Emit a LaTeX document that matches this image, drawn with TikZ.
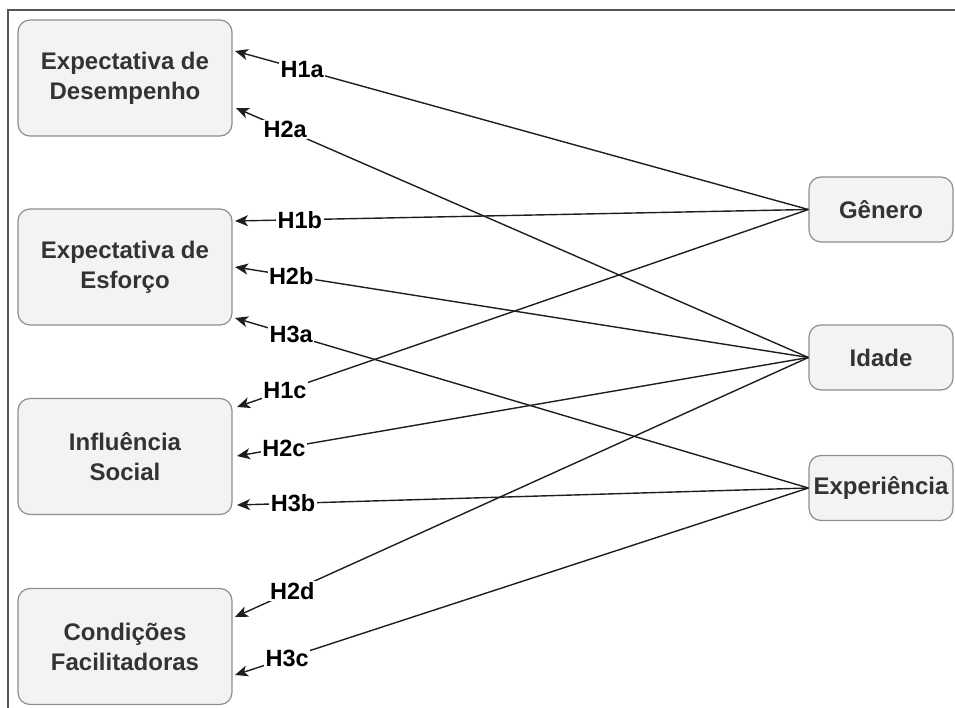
\documentclass[tikz,border=0pt]{standalone}
\usepackage{fontspec}
\setmainfont{Liberation Sans}
\usetikzlibrary{arrows.meta,calc}
\definecolor{boxfill}{HTML}{F3F3F3}
\definecolor{boxdraw}{HTML}{8E8E8E}
\definecolor{txt}{HTML}{333333}
\definecolor{ln}{HTML}{1E1E1E}
\definecolor{frame}{HTML}{555555}
\begin{document}
\begin{tikzpicture}[x=1pt,y=-1pt,
  box/.style={draw=boxdraw, line width=1.2pt, fill=boxfill, rounded corners=12pt,
    text=txt, font=\fontsize{24}{30}\selectfont\bfseries, align=center, inner sep=0pt},
  lbox/.style={box, minimum width=214pt, minimum height=116pt},
  rbox/.style={box, minimum width=144pt, minimum height=65pt},
  arr/.style={draw=ln, line width=1.4pt, -{Stealth[length=13pt,width=11pt,inset=3.5pt]}},
  lbl/.style={fill=white, inner sep=1.5pt, font=\fontsize{23.5}{26}\selectfont\bfseries, text=black}]
\useasboundingbox (0,0) rectangle (955,708);
\draw[frame, line width=2pt] (8,708) -- (8,10.5) -- (955,10.5);

% left boxes
\node[lbox] (ed) at (125,78) {Expectativa de\\Desempenho};
\node[lbox] (ee) at (125,267) {Expectativa de\\Esforço};
\node[lbox] (is) at (125,456.5) {Influência\\Social};
\node[lbox] (cf) at (125,646.5) {Condições\\Facilitadoras};

% right boxes
\node[rbox] (gen) at (881,209.5) {Gênero};
\node[rbox] (ida) at (881,357.5) {Idade};
\node[rbox] (exp) at (881,488) {Experiência};

% arrow tips
\coordinate (t1a) at (235,51);
\coordinate (t2a) at (236,108);
\coordinate (t1b) at (235,221);
\coordinate (t2b) at (235,267);
\coordinate (t3a) at (235,318);
\coordinate (t1c) at (237,407);
\coordinate (t2c) at (237,456);
\coordinate (t3b) at (237,505);
\coordinate (t2d) at (235,617);
\coordinate (t3c) at (235,675);

% connectors
\draw[arr] (gen.west) -- node[lbl,pos=0.883] {H1a} (t1a);
\draw[arr] (ida.west) -- node[lbl,pos=0.914] {H2a} (t2a);
\draw[arr] (gen.west) -- node[lbl,pos=0.887] {H1b} (t1b);
\draw[arr] (ida.west) -- node[lbl,pos=0.902] {H2b} (t2b);
\draw[arr] (exp.west) -- node[lbl,pos=0.902] {H3a} (t3a);
\draw[arr] (gen.west) -- node[lbl,pos=0.916] {H1c} (t1c);
\draw[arr] (ida.west) -- node[lbl,pos=0.918] {H2c} (t2c);
\draw[arr] (exp.west) -- node[lbl,pos=0.902] {H3b} (t3b);
\draw[arr] (ida.west) -- node[lbl,pos=0.900] {H2d} (t2d);
\draw[arr] (exp.west) -- node[lbl,pos=0.909] {H3c} (t3c);
\end{tikzpicture}
\end{document}
